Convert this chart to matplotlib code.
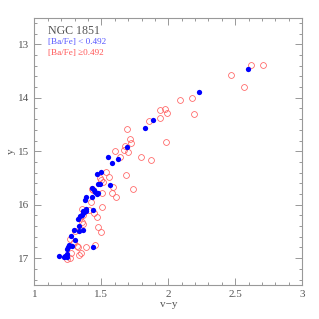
import matplotlib
matplotlib.use('Agg')
import matplotlib.pyplot as plt
from matplotlib.ticker import MultipleLocator

plt.rcParams['font.family'] = ['Liberation Serif', 'DejaVu Serif']

# low [Ba/Fe] stars (filled blue)
blue_vy = [2.594, 2.230, 1.884, 1.824, 1.689, 1.550, 1.627, 1.577, 1.499, 1.465,
           1.472, 1.490, 1.564, 1.432, 1.447, 1.452, 1.465, 1.477, 1.428, 1.385,
           1.375, 1.435, 1.387, 1.387, 1.365, 1.353, 1.340, 1.328, 1.333, 1.365,
           1.295, 1.335, 1.273, 1.303, 1.260, 1.278, 1.435, 1.253, 1.246, 1.240,
           1.228, 1.186, 1.223, 1.241, 1.360, 1.372]
blue_y = [13.47, 13.90, 14.41, 14.56, 14.93, 15.10, 15.14, 15.22, 15.39, 15.42,
          15.61, 15.61, 15.64, 15.68, 15.72, 15.77, 15.80, 15.78, 15.85, 15.86,
          15.92, 16.10, 16.08, 16.12, 16.16, 16.19, 16.22, 16.26, 16.40, 16.47,
          16.48, 16.49, 16.58, 16.67, 16.75, 16.77, 16.80, 16.79, 16.83, 16.93,
          16.96, 16.96, 16.98, 16.97, 16.12, 16.14]

# high [Ba/Fe] stars (open red)
red_vy = [2.619, 2.711, 2.472, 2.569, 2.180, 2.090, 2.195, 1.978, 1.988, 1.941,
          1.938, 1.983, 1.858, 1.689, 1.712, 1.719, 1.674, 1.671, 1.697, 1.602,
          1.794, 1.637, 1.871, 1.532, 1.686, 1.555, 1.490, 1.499, 1.514, 1.587,
          1.739, 1.507, 1.579, 1.607, 1.422, 1.502, 1.357, 1.410, 1.447, 1.465,
          1.353, 1.365, 1.475, 1.497, 1.263, 1.298, 1.315, 1.325, 1.385, 1.452,
          1.270, 1.348, 1.335, 1.241, 1.265, 1.440, 1.360, 1.340, 1.300, 1.430]
red_y = [13.39, 13.39, 13.58, 13.79, 14.01, 14.04, 14.31, 14.21, 14.29, 14.23,
         14.38, 14.82, 14.44, 14.58, 14.78, 14.85, 14.90, 14.98, 15.01, 15.00,
         15.10, 15.11, 15.16, 15.39, 15.44, 15.48, 15.50, 15.54, 15.58, 15.67,
         15.70, 15.79, 15.79, 15.86, 15.95, 16.04, 16.08, 16.10, 16.15, 16.23,
         16.33, 16.36, 16.41, 16.52, 16.64, 16.69, 16.78, 16.79, 16.79, 16.76,
         16.90, 16.90, 16.94, 17.01, 17.00, 15.72, 16.20, 16.25, 16.50, 15.70]

fig = plt.figure(figsize=(3.19, 3.19), dpi=100)
ax = fig.add_axes([0.108, 0.107, 0.839, 0.838])

ax.plot(red_vy, red_y, 'o', ms=4.2, mfc='none', mec='#ff6060', mew=0.55)
ax.plot(blue_vy, blue_y, 'o', ms=3.8, mfc='blue', mec='blue', mew=0)

ax.set_xlim(1, 3)
ax.set_ylim(17.5, 12.5)
ax.xaxis.set_major_locator(MultipleLocator(0.5))
ax.xaxis.set_minor_locator(MultipleLocator(0.1))
ax.yaxis.set_major_locator(MultipleLocator(1))
ax.yaxis.set_minor_locator(MultipleLocator(0.2))
ax.tick_params(which='both', direction='in', top=True, right=True,
               color='#888888', labelcolor='#555555', labelsize=8)
ax.tick_params(which='major', length=5, width=0.6)
ax.tick_params(which='minor', length=2.5, width=0.6)
for s in ax.spines.values():
    s.set_color('#999999')
    s.set_linewidth(0.8)
ax.xaxis.set_major_formatter(plt.FuncFormatter(lambda v, p: '%g' % v))

ax.set_xlabel('v\u2212y', fontsize=8, color='#555555', labelpad=1)
ax.set_ylabel('y', fontsize=8, color='#555555', labelpad=2, rotation=90)

ax.text(0.052, 0.972, 'NGC 1851', transform=ax.transAxes, fontsize=8.6,
        color='#555555', va='top')
ax.text(0.052, 0.922, '[Ba/Fe] < 0.492', transform=ax.transAxes, fontsize=6.6,
        color='#5555ff', va='top')
ax.text(0.052, 0.884, '[Ba/Fe] \u22650.492', transform=ax.transAxes, fontsize=6.6,
        color='#ff5555', va='top')

fig.savefig('out.png', dpi=100)
